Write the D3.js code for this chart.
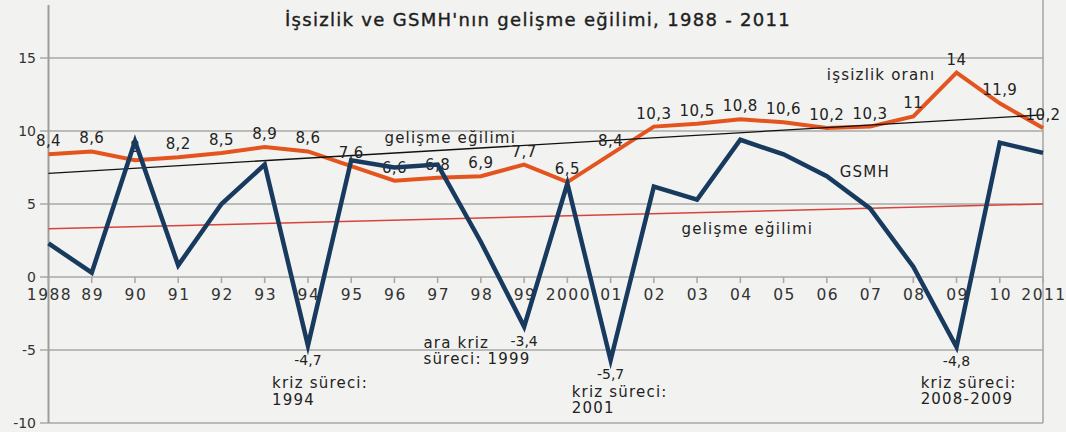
<!DOCTYPE html>
<html>
<head>
<meta charset="utf-8">
<script src="https://cdn.jsdelivr.net/npm/d3@7"></script>
<style>
  body { margin: 0; background: #f2f2f0; }
  svg { display: block; font-family: "DejaVu Sans", sans-serif; }
</style>
</head>
<body>
<script>
// chart size
var width = 1066;
var height = 432;

// years on the x axis and how they are printed
const years = [1988, 1989, 1990, 1991, 1992, 1993, 1994, 1995, 1996, 1997, 1998, 1999,
  2000, 2001, 2002, 2003, 2004, 2005, 2006, 2007, 2008, 2009, 2010, 2011];
const yearLabels = ["1988", "89", "90", "91", "92", "93", "94", "95", "96", "97", "98", "99",
  "2000", "01", "02", "03", "04", "05", "06", "07", "08", "09", "10", "2011"];

// işsizlik oranı (unemployment rate)
const unemployment = [8.4, 8.6, 8.0, 8.2, 8.5, 8.9, 8.6, 7.6, 6.6, 6.8, 6.9, 7.7,
  6.5, 8.4, 10.3, 10.5, 10.8, 10.6, 10.2, 10.3, 11, 14, 11.9, 10.2];

// GSMH growth
const gdp = [2.3, 0.3, 9.3, 0.8, 5.0, 7.7, -4.7, 8.0, 7.5, 7.7, 2.4, -3.4,
  6.4, -5.7, 6.2, 5.3, 9.4, 8.4, 6.9, 4.7, 0.7, -4.8, 9.2, 8.5];

// trend lines (start and end values)
const trendYears = [1988, 2011];
const trendUnemployment = [7.1, 11.1];
const trendGdp = [3.3, 5.0];

const yTicks = [15, 10, 5, 0, -5, -10];

// make a canvas
var svg = d3.select('body').append('svg')
  .attr('width', width)
  .attr('height', height);

var x = d3.scaleLinear().domain([1988, 2011]).range([48.5, 1043]);
var y = d3.scaleLinear().domain([-10, 15]).range([423, 58]);

function comma(v) { return String(v).replace('.', ','); }

// grid lines
svg.append('g').selectAll('line').data(yTicks)
  .enter().append('line')
  .attr('x1', 40).attr('x2', x(2011))
  .attr('y1', function(d) { return y(d); })
  .attr('y2', function(d) { return y(d); })
  .attr('stroke', '#a9a9a7')
  .attr('stroke-width', 1.6);

// left axis + right border
svg.append('line').attr('x1', x(1988)).attr('x2', x(1988))
  .attr('y1', 5).attr('y2', y(-10))
  .attr('stroke', '#9d9d9b').attr('stroke-width', 2);
svg.append('line').attr('x1', x(2011)).attr('x2', x(2011))
  .attr('y1', 0).attr('y2', y(-10))
  .attr('stroke', '#a9a9a7').attr('stroke-width', 1.6);

// y labels
svg.append('g').selectAll('text').data(yTicks)
  .enter().append('text')
  .attr('x', 36)
  .attr('y', function(d) { return y(d) + 5; })
  .attr('text-anchor', 'end')
  .attr('font-size', 14)
  .attr('fill', '#333')
  .text(function(d) { return d; });

// x ticks on the zero line
svg.append('g').selectAll('line').data(years)
  .enter().append('line')
  .attr('x1', function(d) { return x(d); })
  .attr('x2', function(d) { return x(d); })
  .attr('y1', y(0)).attr('y2', y(0) + 6)
  .attr('stroke', '#a9a9a7').attr('stroke-width', 1.6);

svg.append('g').selectAll('text').data(years)
  .enter().append('text')
  .attr('x', function(d) { return x(d) + 1; })
  .attr('y', y(0) + 23)
  .attr('text-anchor', 'middle')
  .attr('font-size', 15.5)
  .attr('letter-spacing', 1.5)
  .attr('fill', '#333')
  .text(function(d, i) { return yearLabels[i]; });

// title
svg.append('text')
  .attr('x', 538).attr('y', 26)
  .attr('text-anchor', 'middle')
  .attr('font-size', 18)
  .attr('letter-spacing', 1.3)
  .attr('fill', '#1e1e1e')
  .attr('stroke', '#1e1e1e').attr('stroke-width', 0.4)
  .text("İşsizlik ve GSMH'nın gelişme eğilimi, 1988 - 2011");

var line = d3.line()
  .x(function(d) { return x(d[0]); })
  .y(function(d) { return y(d[1]); });

// unemployment line
svg.append('path')
  .datum(d3.zip(years, unemployment))
  .attr('d', line)
  .attr('fill', 'none')
  .attr('stroke', '#e4541f')
  .attr('stroke-width', 4)
  .attr('stroke-linejoin', 'miter');

// trend lines
svg.append('path')
  .datum(d3.zip(trendYears, trendUnemployment))
  .attr('d', line)
  .attr('fill', 'none').attr('stroke', '#111').attr('stroke-width', 1.3);
svg.append('path')
  .datum(d3.zip(trendYears, trendGdp))
  .attr('d', line)
  .attr('fill', 'none').attr('stroke', '#d8443c').attr('stroke-width', 1.5);

// unemployment value labels
svg.append('g').selectAll('text').data(d3.zip(years, unemployment))
  .enter().append('text')
  .attr('x', function(d) { return x(d[0]); })
  .attr('y', function(d) { return y(d[1]) - 8; })
  .attr('text-anchor', 'middle')
  .attr('font-size', 15)
  .attr('letter-spacing', 0.4)
  .attr('fill', '#222')
  .text(function(d) { return comma(d[1]); });

// GSMH line
svg.append('path')
  .datum(d3.zip(years, gdp))
  .attr('d', line)
  .attr('fill', 'none')
  .attr('stroke', '#173a5e')
  .attr('stroke-width', 4.5)
  .attr('stroke-linejoin', 'miter')
  .attr('stroke-miterlimit', 10);

// negative GSMH labels
svg.append('g').selectAll('text').data(d3.zip(years, gdp).filter(function(d) { return d[1] < 0; }))
  .enter().append('text')
  .attr('x', function(d) { return x(d[0]); })
  .attr('y', function(d) { return y(d[1]) + 19; })
  .attr('text-anchor', 'middle')
  .attr('font-size', 14)
  .attr('fill', '#222')
  .text(function(d) { return comma(d[1]); });

// annotations, anchored in data space
var notes = [
  { t: 'işsizlik oranı', yr: 2006.0, v: 13.5 },
  { t: 'gelişme eğilimi', yr: 1995.77, v: 9.18 },
  { t: 'GSMH', yr: 2006.3, v: 6.85 },
  { t: 'gelişme eğilimi', yr: 2002.64, v: 2.95 },
  { t: 'ara kriz', yr: 1996.67, v: -4.86 },
  { t: 'süreci: 1999', yr: 1996.67, v: -5.96 },
  { t: 'kriz süreci:', yr: 1993.17, v: -7.6 },
  { t: '1994', yr: 1993.17, v: -8.75 },
  { t: 'kriz süreci:', yr: 2000.1, v: -8.2 },
  { t: '2001', yr: 2000.1, v: -9.3 },
  { t: 'kriz süreci:', yr: 2008.17, v: -7.6 },
  { t: '2008-2009', yr: 2008.17, v: -8.7 }
];
svg.append('g').selectAll('text').data(notes)
  .enter().append('text')
  .attr('x', function(d) { return x(d.yr); })
  .attr('y', function(d) { return y(d.v); })
  .attr('font-size', 15)
  .attr('letter-spacing', 1.2)
  .attr('fill', '#222')
  .text(function(d) { return d.t; });
</script>
</body>
</html>
